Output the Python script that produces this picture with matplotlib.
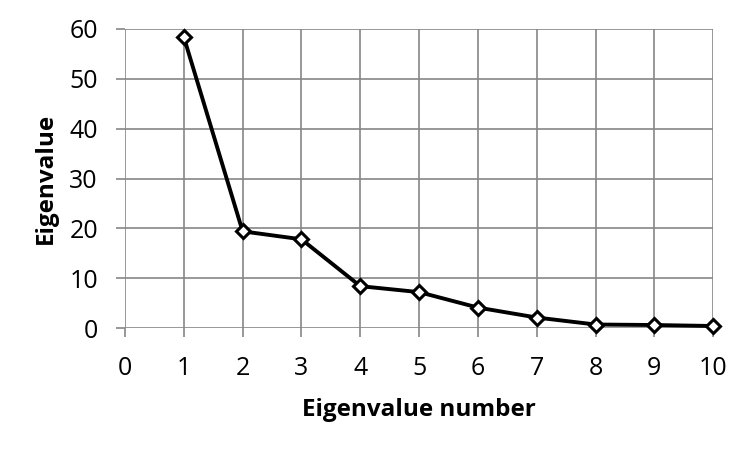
import matplotlib
matplotlib.use('Agg')
import matplotlib.pyplot as plt

# Eigenvalue data (scree plot)
numbers = [1, 2, 3, 4, 5, 6, 7, 8, 9, 10]
eigenvalues = [58.4, 19.4, 17.8, 8.4, 7.2, 4.1, 2.1, 0.7, 0.6, 0.4]

plt.rcParams['font.family'] = ['Open Sans', 'DejaVu Sans']

fig = plt.figure(figsize=(7.51, 4.51), dpi=100)
ax = fig.add_axes([0.1664, 0.2727, 0.7833, 0.663])

ax.plot(numbers, eigenvalues, color='black', linewidth=2.8,
        marker='D', markersize=7.5, markerfacecolor='white',
        markeredgecolor='black', markeredgewidth=2.2, zorder=3, clip_on=False)

ax.set_xlim(0, 10)
ax.set_ylim(0, 60)
ax.set_xticks(range(0, 11))
ax.set_yticks(range(0, 61, 10))
ax.grid(True, color='#868686', linewidth=1.2)
ax.set_axisbelow(True)
for s in ax.spines.values():
    s.set_visible(False)
ax.tick_params(axis='both', colors='#868686', labelcolor='black',
               labelsize=18, length=6.5, width=1.2)
ax.tick_params(axis='x', pad=14)
ax.tick_params(axis='y', pad=13)

ax.set_xlabel('Eigenvalue number', fontsize=17.5, fontweight='bold', labelpad=12)
ax.set_ylabel('Eigenvalue', fontsize=17.5, fontweight='bold', labelpad=8)

fig.savefig('out.png', dpi=100)
